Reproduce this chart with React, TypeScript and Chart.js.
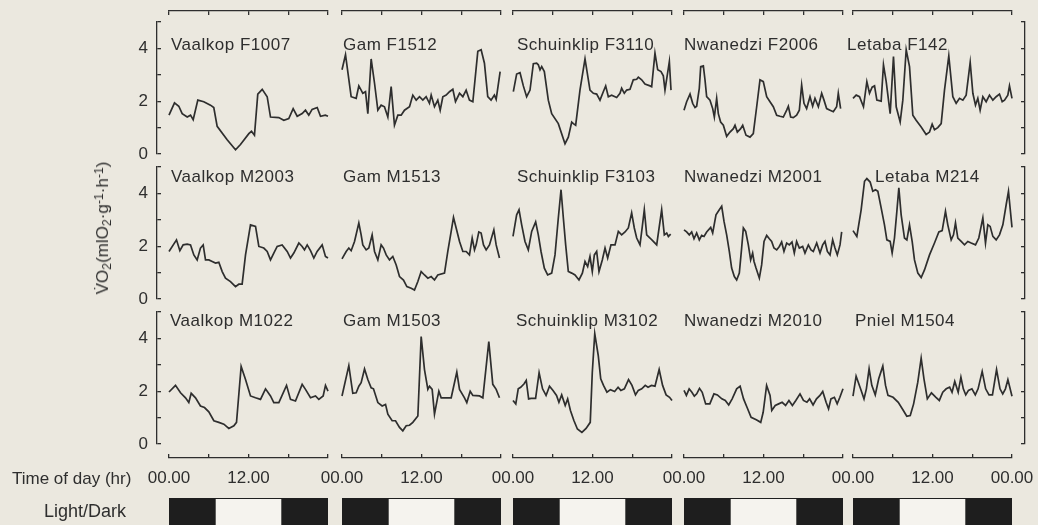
import React, { useEffect, useRef } from 'react';
import { Chart, registerables } from 'chart.js';

Chart.register(...registerables);

const FONT = '"Liberation Sans", Arial, Helvetica, sans-serif';
const INK = '#2e2e2e';
const PAPER = '#ebe8df';
const LIGHT_FILL = '#f5f3ee';
const DARK_FILL = '#1e1e1e';

Chart.defaults.font.family = FONT;
Chart.defaults.color = INK;

// ---- data: [hour of day, VO2 (ml O2 g-1 h-1)] ----
const VAALKOP_F1007: [number, number][] = [[0,1.47],[0.83,1.94],[1.48,1.81],[1.99,1.53],[2.75,1.40],[3.25,1.47],[3.65,1.30],[4.35,2.04],[5.25,1.98],[6.26,1.85],[6.76,1.76],[7.27,1.05],[8.78,0.54],[10.04,0.16],[10.79,0.36],[12.05,0.77],[12.45,0.86],[12.9,0.71],[13.4,2.27],[14.07,2.45],[14.82,2.17],[15.32,1.40],[16.57,1.38],[17.33,1.28],[18.08,1.34],[18.74,1.72],[19.35,1.43],[20.1,1.53],[20.6,1.66],[21.1,1.47],[21.6,1.69],[22.37,1.76],[22.87,1.43],[23.6,1.47],[24,1.43]];
const GAM_F1512: [number, number][] = [[0,3.19],[0.53,3.76],[1.38,2.17],[2.14,2.11],[2.54,2.58],[2.89,2.42],[3.14,2.30],[3.55,2.36],[3.9,1.53],[4.4,3.60],[4.91,2.68],[5.41,1.66],[5.91,1.85],[6.41,1.79],[6.92,1.40],[7.42,2.55],[7.92,1.09],[8.43,1.47],[8.93,1.47],[9.43,1.66],[10.19,1.79],[10.69,2.23],[11.2,2.04],[11.7,2.17],[12.2,2.04],[12.7,2.17],[13.2,1.92],[13.46,2.23],[13.96,1.79],[14.46,2.04],[14.82,1.66],[15.22,2.17],[15.72,2.23],[16.23,2.36],[16.73,2.45],[17.13,1.98],[17.74,2.30],[18.24,2.17],[18.74,2.42],[19.24,2.04],[19.75,1.98],[20.5,3.89],[21.0,3.95],[21.5,3.44],[22.0,2.17],[22.5,2.04],[23.0,2.23],[23.27,2.07],[23.87,3.12]];
const SCHUINKLIP_F3110: [number, number][] = [[0.05,2.36],[0.55,3.03],[1.06,3.08],[1.56,2.58],[2.06,2.17],[2.57,2.42],[3.07,3.42],[3.57,3.44],[3.82,3.38],[4.08,3.19],[4.33,3.31],[4.73,3.12],[5.33,2.04],[5.84,1.53],[6.84,1.15],[7.85,0.39],[8.35,0.64],[8.86,1.21],[9.11,1.15],[9.46,1.09],[10.11,2.42],[10.87,3.60],[11.62,2.42],[12.13,2.30],[12.63,2.27],[13.13,2.04],[13.63,2.36],[13.99,2.58],[14.39,2.17],[14.89,2.23],[15.65,2.14],[16.15,2.30],[16.4,2.49],[16.8,2.30],[17.16,2.42],[17.66,2.45],[18.16,2.81],[18.67,2.83],[18.92,2.91],[19.42,2.81],[19.92,2.65],[20.68,2.58],[20.93,2.55],[21.43,3.82],[21.84,3.19],[22.34,3.12],[22.69,2.96],[22.94,2.42],[23.6,3.50],[23.85,2.42]];
const NWANEDZI_F2006: [number, number][] = [[0,1.66],[0.4,1.98],[0.91,2.27],[1.31,1.92],[1.66,1.76],[1.91,1.81],[2.31,2.49],[2.52,3.31],[2.92,3.34],[3.17,2.81],[3.42,2.17],[3.92,2.04],[4.33,1.72],[4.58,1.40],[4.93,2.11],[5.18,1.53],[5.53,1.21],[5.94,1.09],[6.44,0.67],[6.94,0.83],[7.45,0.96],[7.7,1.09],[8.05,0.83],[8.55,0.96],[8.86,1.09],[9.36,0.71],[9.96,0.64],[10.46,0.77],[10.97,1.79],[11.47,2.81],[11.97,2.74],[12.48,2.17],[12.98,1.98],[13.48,1.79],[13.99,1.47],[14.49,1.43],[14.99,1.40],[15.5,1.66],[15.75,1.81],[16.1,1.40],[16.5,1.38],[17.0,1.47],[17.41,1.66],[17.76,2.61],[18.11,1.92],[18.51,1.72],[19.02,2.17],[19.42,1.81],[19.77,2.11],[20.28,1.79],[20.78,2.30],[21.13,2.04],[21.53,1.72],[22.04,1.66],[22.54,1.60],[23.04,1.79],[23.29,2.30],[23.64,1.72]];
const LETABA_F142: [number, number][] = [[0,2.11],[0.48,2.23],[0.98,2.17],[1.58,1.79],[2.09,2.74],[2.49,2.30],[2.89,2.53],[3.25,2.58],[3.6,2.04],[4.25,2.0],[4.6,3.38],[5.01,2.74],[5.61,1.53],[6.11,3.69],[6.52,1.79],[7.12,1.21],[7.52,2.04],[8.03,3.95],[8.53,3.31],[9.03,1.47],[9.53,1.28],[10.29,1.02],[11.04,0.74],[11.55,0.83],[11.95,1.13],[12.3,0.92],[12.8,1.0],[13.31,1.15],[13.81,2.42],[14.46,3.72],[15.07,2.17],[15.57,1.92],[16.08,2.11],[16.58,2.04],[17.08,2.23],[17.69,3.47],[18.09,2.30],[18.49,1.85],[18.84,2.11],[19.19,1.66],[19.6,2.17],[20.1,1.98],[20.6,2.23],[21.11,2.04],[21.61,2.17],[22.11,2.27],[22.52,1.98],[22.87,2.04],[23.37,2.23],[23.62,2.58],[24,2.11]];

const VAALKOP_M2003: [number, number][] = [[0,1.80],[1.13,2.24],[1.64,1.83],[2.14,2.05],[2.74,2.08],[3.25,2.05],[3.75,1.67],[4.25,1.48],[4.75,1.93],[5.16,2.05],[5.51,1.48],[6.01,1.48],[6.52,1.42],[7.02,1.36],[7.52,1.39],[8.03,1.04],[8.53,0.79],[9.28,0.66],[10.04,0.47],[10.54,0.56],[11.04,0.56],[11.55,1.67],[12.3,2.81],[13.06,2.75],[13.56,1.99],[14.31,1.93],[14.82,1.80],[15.32,1.48],[15.82,1.74],[16.33,1.99],[17.08,2.05],[17.84,1.80],[18.34,1.55],[18.84,1.74],[19.6,2.12],[20.1,1.99],[20.45,1.86],[20.86,2.05],[21.36,1.83],[21.86,1.55],[22.36,1.80],[23.12,2.05],[23.62,1.61],[24,1.55]];
const GAM_M1513: [number, number][] = [[0,1.52],[0.63,1.80],[1.03,1.93],[1.38,1.83],[1.89,2.18],[2.54,2.88],[2.89,2.43],[3.14,2.05],[3.65,1.86],[4.05,1.93],[4.55,2.43],[4.91,1.80],[5.41,1.48],[5.91,2.05],[6.26,1.93],[6.67,1.67],[7.17,1.48],[7.67,1.61],[8.18,1.29],[8.68,0.85],[9.28,0.72],[9.79,0.47],[10.44,0.41],[10.94,0.34],[11.45,0.66],[11.95,1.04],[12.45,0.91],[12.96,0.79],[13.46,0.85],[13.96,0.72],[14.46,0.91],[15.47,0.98],[15.97,1.80],[16.48,2.56],[16.83,3.09],[17.23,2.69],[17.74,2.18],[18.24,1.80],[18.74,1.80],[19.24,1.67],[19.65,2.31],[20.0,1.86],[20.25,2.05],[20.65,2.54],[21.0,2.50],[21.36,2.05],[21.76,1.86],[22.26,2.05],[22.92,2.62],[23.27,2.05],[23.77,1.55]];
const SCHUINKLIP_F3103: [number, number][] = [[0,2.37],[0.55,3.19],[0.91,3.38],[1.31,2.81],[1.81,2.18],[2.31,1.86],[2.82,2.56],[3.42,2.92],[3.82,2.43],[4.23,1.80],[4.73,1.17],[5.23,0.91],[5.84,0.98],[6.34,1.67],[6.84,3.07],[7.25,4.14],[7.6,3.07],[7.95,2.05],[8.35,1.04],[8.86,0.98],[9.36,0.91],[9.96,0.72],[10.47,0.98],[10.87,1.42],[11.27,1.23],[11.62,1.61],[11.97,1.04],[12.28,1.67],[12.63,1.80],[12.98,1.04],[13.48,1.48],[13.89,1.93],[14.29,1.55],[14.79,2.05],[15.4,2.05],[15.9,2.56],[16.4,2.43],[16.91,2.54],[17.41,2.69],[17.91,3.26],[18.31,2.69],[18.67,2.31],[19.17,2.05],[19.52,2.75],[19.82,3.38],[20.18,2.43],[20.68,2.31],[21.18,2.18],[21.69,2.05],[22.44,3.38],[22.84,2.43],[23.2,2.50],[23.45,2.37],[23.8,2.46]];
const NWANEDZI_M2001: [number, number][] = [[0,2.62],[0.4,2.54],[0.8,2.43],[1.16,2.54],[1.51,2.28],[1.91,2.50],[2.31,2.24],[2.67,2.41],[3.02,2.37],[3.42,2.54],[4.03,2.71],[4.33,2.50],[4.83,3.19],[5.33,3.38],[5.69,3.51],[6.04,2.94],[6.44,2.43],[6.84,1.80],[7.19,1.17],[7.6,0.85],[7.95,0.72],[8.35,0.98],[8.7,1.93],[8.96,2.69],[9.31,2.56],[9.71,2.05],[10.06,1.48],[10.36,1.74],[10.57,1.42],[10.87,1.17],[11.37,0.79],[11.72,1.29],[12.08,2.18],[12.48,2.41],[12.88,2.28],[13.23,2.18],[13.58,1.93],[13.99,1.86],[14.39,1.99],[14.74,2.16],[15.09,1.80],[15.5,2.12],[15.9,2.05],[16.3,2.16],[16.65,1.74],[17.0,2.18],[17.41,1.93],[17.91,1.99],[18.26,1.74],[18.77,2.05],[19.17,1.86],[19.52,1.80],[20.03,2.12],[20.53,1.74],[20.93,2.05],[21.28,2.18],[21.64,1.80],[22.04,1.67],[22.44,2.24],[22.79,1.93],[23.14,1.67],[23.55,2.05],[23.8,2.54]];
const LETABA_M214: [number, number][] = [[0,2.59],[0.58,2.37],[1.23,3.38],[1.74,4.46],[2.09,4.56],[2.59,4.43],[2.99,4.08],[3.4,4.14],[3.75,4.08],[4.25,3.45],[4.75,2.81],[5.11,2.24],[5.61,2.18],[5.91,1.74],[6.26,2.31],[6.62,3.32],[6.92,4.21],[7.27,3.19],[7.77,2.31],[8.13,2.24],[8.53,2.81],[8.93,2.18],[9.28,1.48],[9.79,0.98],[10.29,0.81],[10.79,1.10],[11.55,1.67],[12.3,2.12],[12.96,2.54],[13.46,2.59],[13.96,3.32],[14.31,2.81],[14.82,2.24],[15.17,2.43],[15.47,2.88],[15.82,2.31],[16.33,2.18],[16.83,2.05],[17.33,2.18],[17.84,2.12],[18.49,2.05],[18.99,2.31],[19.6,3.07],[20.0,2.12],[20.35,2.81],[20.7,2.75],[21.11,2.37],[21.61,2.24],[22.11,2.43],[22.62,2.81],[23.12,3.57],[23.47,4.08],[24,2.71]];

const VAALKOP_M1022: [number, number][] = [[0,1.97],[0.98,2.22],[1.74,1.94],[2.49,1.75],[2.99,1.57],[3.35,1.92],[4.0,1.75],[4.75,1.44],[5.36,1.38],[6.01,1.22],[6.77,0.88],[7.52,0.82],[8.28,0.75],[9.03,0.59],[9.79,0.69],[10.19,0.82],[10.89,2.94],[11.55,2.44],[12.3,1.82],[13.06,1.75],[13.81,1.69],[14.57,2.09],[15.32,1.82],[15.82,1.57],[16.58,1.57],[17.74,2.22],[18.34,1.69],[19.09,1.63],[20.1,2.26],[20.6,2.07],[21.36,1.75],[22.11,1.82],[22.61,1.69],[23.27,1.82],[23.62,2.22],[24,2.0]];
const GAM_M1503: [number, number][] = [[0,1.82],[1.03,2.97],[1.63,1.92],[2.14,1.94],[2.54,2.19],[2.89,2.32],[3.4,2.84],[3.9,2.44],[4.4,2.13],[4.75,2.09],[5.41,1.57],[6.06,1.44],[6.57,1.50],[6.92,1.13],[7.57,0.88],[8.08,0.88],[8.68,0.63],[9.18,0.50],[9.69,0.69],[10.19,0.71],[10.69,0.82],[11.45,1.06],[11.95,4.07],[12.45,2.82],[12.96,2.07],[13.21,2.19],[13.61,2.07],[13.96,1.13],[14.62,2.0],[14.97,1.75],[15.97,1.75],[16.48,1.75],[17.33,2.72],[17.74,2.07],[18.49,1.75],[18.84,1.57],[19.35,2.0],[19.75,1.84],[20.75,1.82],[21.26,1.75],[22.16,3.88],[22.76,2.26],[23.27,2.07],[23.77,1.75]];
const SCHUINKLIP_M3102: [number, number][] = [[0,1.65],[0.42,1.52],[0.79,2.09],[1.16,2.15],[1.68,2.28],[2.0,2.41],[2.36,1.71],[2.73,1.73],[3.41,1.73],[3.94,2.70],[4.46,2.09],[4.99,1.84],[5.51,2.19],[6.04,2.03],[6.57,1.84],[6.93,1.58],[7.35,1.86],[7.88,1.46],[8.25,1.71],[8.67,1.27],[9.19,0.89],[9.72,0.57],[10.4,0.44],[11.03,0.59],[11.66,0.82],[11.97,2.72],[12.34,4.18],[12.87,3.35],[13.24,2.47],[13.66,2.22],[14.18,1.96],[14.71,2.06],[15.34,1.99],[15.86,2.15],[16.28,2.03],[16.81,2.09],[17.44,2.44],[17.96,2.22],[18.49,1.86],[18.91,2.03],[19.43,2.09],[19.96,2.22],[20.38,2.15],[20.9,2.22],[21.43,2.19],[22.06,2.82],[22.58,2.22],[23.11,1.86],[23.63,1.77],[24,1.65]];
const NWANEDZI_M2010: [number, number][] = [[0,2.03],[0.36,1.84],[0.78,2.09],[1.19,1.96],[1.56,1.81],[1.92,1.90],[2.34,2.11],[2.75,1.96],[3.27,1.52],[3.9,1.52],[4.52,1.90],[5.04,1.86],[5.71,1.71],[6.23,1.65],[6.75,1.48],[7.27,1.71],[7.95,2.09],[8.47,2.19],[8.99,1.71],[9.51,1.39],[10.13,1.01],[10.91,0.92],[11.58,0.82],[11.95,1.20],[12.47,2.22],[12.99,1.84],[13.25,1.27],[13.77,1.46],[14.29,1.52],[14.81,1.58],[15.33,1.46],[15.84,1.65],[16.36,1.46],[16.88,1.65],[17.51,1.90],[18.03,1.65],[18.55,1.58],[18.96,1.71],[19.48,1.48],[20.0,1.71],[20.52,1.84],[20.94,1.99],[21.45,1.58],[21.82,1.33],[22.18,1.71],[22.7,1.77],[23.12,1.52],[23.53,1.77],[24,2.09]];
const PNIEL_M1504: [number, number][] = [[0,1.81],[0.47,2.57],[1.14,2.09],[1.66,1.71],[2.02,2.09],[2.43,2.85],[2.84,2.22],[3.36,1.86],[3.88,2.47],[4.5,2.95],[4.91,2.22],[5.28,1.84],[6.05,1.77],[6.83,1.58],[7.6,1.27],[8.12,1.05],[8.64,1.08],[9.15,1.52],[9.78,2.34],[10.29,3.25],[10.71,2.47],[11.22,1.71],[11.84,1.94],[12.52,1.77],[13.03,1.65],[13.55,1.96],[14.07,2.09],[14.59,2.15],[14.95,1.96],[15.36,2.37],[15.88,1.96],[16.29,2.53],[16.65,2.09],[17.02,1.86],[17.43,2.03],[17.95,2.09],[18.46,1.86],[18.88,2.09],[19.5,2.75],[20.02,2.09],[20.53,1.86],[21.05,1.86],[21.67,2.82],[22.19,2.09],[22.6,1.90],[23.01,2.09],[23.38,2.44],[24,1.81]];

const PANEL_TITLES: string[][] = [
  ['Vaalkop F1007', 'Gam F1512', 'Schuinklip F3110', 'Nwanedzi F2006', 'Letaba F142'],
  ['Vaalkop M2003', 'Gam M1513', 'Schuinklip F3103', 'Nwanedzi M2001', 'Letaba M214'],
  ['Vaalkop M1022', 'Gam M1503', 'Schuinklip M3102', 'Nwanedzi M2010', 'Pniel M1504'],
];
const PANEL_SERIES = [
  [VAALKOP_F1007, GAM_F1512, SCHUINKLIP_F3110, NWANEDZI_F2006, LETABA_F142],
  [VAALKOP_M2003, GAM_M1513, SCHUINKLIP_F3103, NWANEDZI_M2001, LETABA_M214],
  [VAALKOP_M1022, GAM_M1503, SCHUINKLIP_M3102, NWANEDZI_M2010, PNIEL_M1504],
];

const TIME_TICK_LABELS: Record<number, string> = { 0: '00.00', 12: '12.00', 24: '00.00' };
const Y_TICK_LABELS: Record<number, string> = { 0: '0', 2: '2', 4: '4' };
const LIGHT_ON = 7;
const LIGHT_OFF = 17;

// ---- layout (pixels) ----
const COL_LEFT = [169, 342, 513, 684, 853];
const COL_W = 159;
const ROW_TOP = [22, 167, 312];
const ROW_H = 132;
const TOP_AXIS_Y = 11;
const BOTTOM_AXIS_Y = 458;
const LEFT_AXIS_X = 157;
const RIGHT_AXIS_X = 1025;
const TICK = 4;
const LD_TOP = 498;
const YPAD = 26;   // vertical canvas padding of the y-axis charts
const XPAD = 36;   // horizontal canvas padding of the time-axis charts
const TITLE_TOP_ROW = [35, 167, 311];
const TITLE_LEFT = [
  [171, 343, 517, 684, 847],
  [171, 343, 517, 684, 875],
  [170, 343, 516, 684, 855],
];

const AXIS_BORDER = { display: true, color: INK, width: 1.3 };
const INNER_TICKS = { drawTicks: false, drawOnChartArea: true, color: INK, lineWidth: 1.3 };

function baseOptions(padding: any, scales: any, extra: any = {}) {
  return {
    animation: false,
    responsive: false,
    maintainAspectRatio: false,
    events: [],
    layout: { padding },
    plugins: { legend: { display: false }, tooltip: { enabled: false }, title: { display: false } },
    scales,
    ...extra,
  };
}

type Box = { left: number; top: number; width: number; height: number };

function ChartCanvas({ box, make }: { box: Box; make: () => any }) {
  const ref = useRef<HTMLCanvasElement>(null);
  useEffect(() => {
    const chart = new Chart(ref.current as HTMLCanvasElement, make());
    return () => chart.destroy();
  }, []);
  return (
    <canvas
      ref={ref}
      width={box.width}
      height={box.height}
      style={{ position: 'absolute', left: box.left, top: box.top, width: box.width, height: box.height }}
    />
  );
}

function panelChart(pts: [number, number][]) {
  return () => ({
    type: 'line',
    data: {
      datasets: [{
        data: pts.map(([x, y]) => ({ x, y })),
        borderColor: INK,
        borderWidth: 1.7,
        pointRadius: 0,
        tension: 0,
        fill: false,
        clip: false,
      }],
    },
    options: baseOptions(4, {
      x: { type: 'linear', min: 0, max: 24, display: false },
      y: { type: 'linear', min: 0, max: 5, display: false },
    }),
  });
}

function topAxisChart() {
  return () => ({
    type: 'line',
    data: { datasets: [] },
    options: baseOptions(4, {
      x: { type: 'linear', position: 'top', min: 0, max: 24, ticks: { stepSize: 6, display: false }, grid: INNER_TICKS, border: AXIS_BORDER },
      y: { type: 'linear', min: 0, max: 1, display: false },
    }),
  });
}

function bottomAxisChart(last: boolean) {
  return () => ({
    type: 'line',
    data: { datasets: [] },
    options: baseOptions({ left: XPAD, right: XPAD, top: 4, bottom: 4 }, {
      x: {
        type: 'linear', position: 'bottom', min: 0, max: 24,
        ticks: {
          stepSize: 6, autoSkip: false, maxRotation: 0, padding: 10, color: INK,
          font: { size: 17, family: FONT },
          callback: (v: number) => (v === 24 && !last ? '' : TIME_TICK_LABELS[v] ?? ''),
        },
        grid: INNER_TICKS, border: AXIS_BORDER,
        afterFit: (s: any) => { s.height = 34; },
      },
      y: { type: 'linear', min: 0, max: 1, display: false },
    }),
  });
}

function leftAxisChart() {
  return () => ({
    type: 'line',
    data: { datasets: [] },
    options: baseOptions({ left: 4, right: 4, top: YPAD, bottom: YPAD }, {
      x: { type: 'linear', min: 0, max: 1, display: false },
      y: {
        type: 'linear', position: 'left', min: 0, max: 5,
        ticks: { stepSize: 1, padding: 9, color: INK, font: { size: 17, family: FONT }, callback: (v: number) => Y_TICK_LABELS[v] ?? '' },
        grid: INNER_TICKS, border: AXIS_BORDER,
        afterFit: (s: any) => { s.width = 40; },
      },
    }),
  });
}

function rightAxisChart() {
  return () => ({
    type: 'line',
    data: { datasets: [] },
    options: baseOptions({ left: 4, right: 4, top: YPAD, bottom: YPAD }, {
      x: { type: 'linear', min: 0, max: 1, display: false },
      y: {
        type: 'linear', position: 'right', min: 0, max: 5,
        ticks: { stepSize: 1, display: false },
        grid: INNER_TICKS, border: AXIS_BORDER,
      },
    }),
  });
}

function lightDarkChart() {
  const common = { grouped: false, barPercentage: 1, categoryPercentage: 1, borderSkipped: false };
  return () => ({
    type: 'bar',
    data: {
      labels: ['Light/Dark'],
      datasets: [
        { ...common, data: [[0, 24]], backgroundColor: LIGHT_FILL, borderColor: DARK_FILL, borderWidth: 1.4, order: 2 },
        { ...common, data: [[0, LIGHT_ON]], backgroundColor: DARK_FILL, borderWidth: 0, order: 1 },
        { ...common, data: [[LIGHT_OFF, 24]], backgroundColor: DARK_FILL, borderWidth: 0, order: 1 },
      ],
    },
    options: baseOptions(4, {
      x: { type: 'linear', min: 0, max: 24, display: false },
      y: { type: 'category', display: false },
    }, { indexAxis: 'y' }),
  });
}

export default function App() {
  const items: { key: string; box: Box; make: () => any }[] = [];

  PANEL_SERIES.forEach((row, r) => {
    row.forEach((pts, c) => {
      items.push({
        key: `p${r}${c}`,
        box: { left: COL_LEFT[c] - 4, top: ROW_TOP[r] - 4, width: COL_W + 8, height: ROW_H + 8 },
        make: panelChart(pts),
      });
    });
    items.push({
      key: `l${r}`,
      box: { left: LEFT_AXIS_X - 40 - 4, top: ROW_TOP[r] - YPAD, width: 4 + 40 + TICK + 4, height: ROW_H + 2 * YPAD },
      make: leftAxisChart(),
    });
    items.push({
      key: `r${r}`,
      box: { left: RIGHT_AXIS_X - TICK - 4, top: ROW_TOP[r] - YPAD, width: TICK + 8, height: ROW_H + 2 * YPAD },
      make: rightAxisChart(),
    });
  });

  COL_LEFT.forEach((left, c) => {
    items.push({
      key: `t${c}`,
      box: { left: left - 4, top: TOP_AXIS_Y - 4, width: COL_W + 8, height: TICK + 8 },
      make: topAxisChart(),
    });
    items.push({
      key: `b${c}`,
      box: { left: left - XPAD, top: BOTTOM_AXIS_Y - TICK - 4, width: COL_W + 2 * XPAD, height: 4 + TICK + 34 + 4 },
      make: bottomAxisChart(c === COL_LEFT.length - 1),
    });
    items.push({
      key: `ld${c}`,
      box: { left: left - 4, top: LD_TOP - 4, width: COL_W + 8, height: 48 },
      make: lightDarkChart(),
    });
  });

  const textStyle: React.CSSProperties = {
    position: 'absolute', fontFamily: FONT, fontSize: 17, lineHeight: '20px', color: INK, whiteSpace: 'nowrap',
  };
  const subStyle: React.CSSProperties = { fontSize: '0.72em', verticalAlign: '-0.25em', lineHeight: 0 };
  const supStyle: React.CSSProperties = { fontSize: '0.72em', verticalAlign: '0.45em', lineHeight: 0 };

  return (
    <div style={{ position: 'absolute', left: 0, top: 0, width: 1038, height: 525, overflow: 'hidden', background: PAPER }}>
      {items.map((it) => <ChartCanvas key={it.key} box={it.box} make={it.make} />)}
      {PANEL_TITLES.map((row, r) => row.map((t, c) => (
        <div key={`tt${r}${c}`} style={{ ...textStyle, left: TITLE_LEFT[r][c], top: TITLE_TOP_ROW[r], letterSpacing: '0.5px' }}>{t}</div>
      )))}
      <div style={{ ...textStyle, left: 103, top: 228, transform: 'translate(-50%, -50%) rotate(-90deg)' }}>
        V&#775;O<span style={subStyle}>2</span>(mlO<span style={subStyle}>2</span>·g<span style={supStyle}>-1</span>·h<span style={supStyle}>-1</span>)
      </div>
      <div style={{ ...textStyle, left: 12, top: 469 }}>Time of day (hr)</div>
      <div style={{ ...textStyle, left: 44, top: 501, fontSize: 18 }}>Light/Dark</div>
    </div>
  );
}
